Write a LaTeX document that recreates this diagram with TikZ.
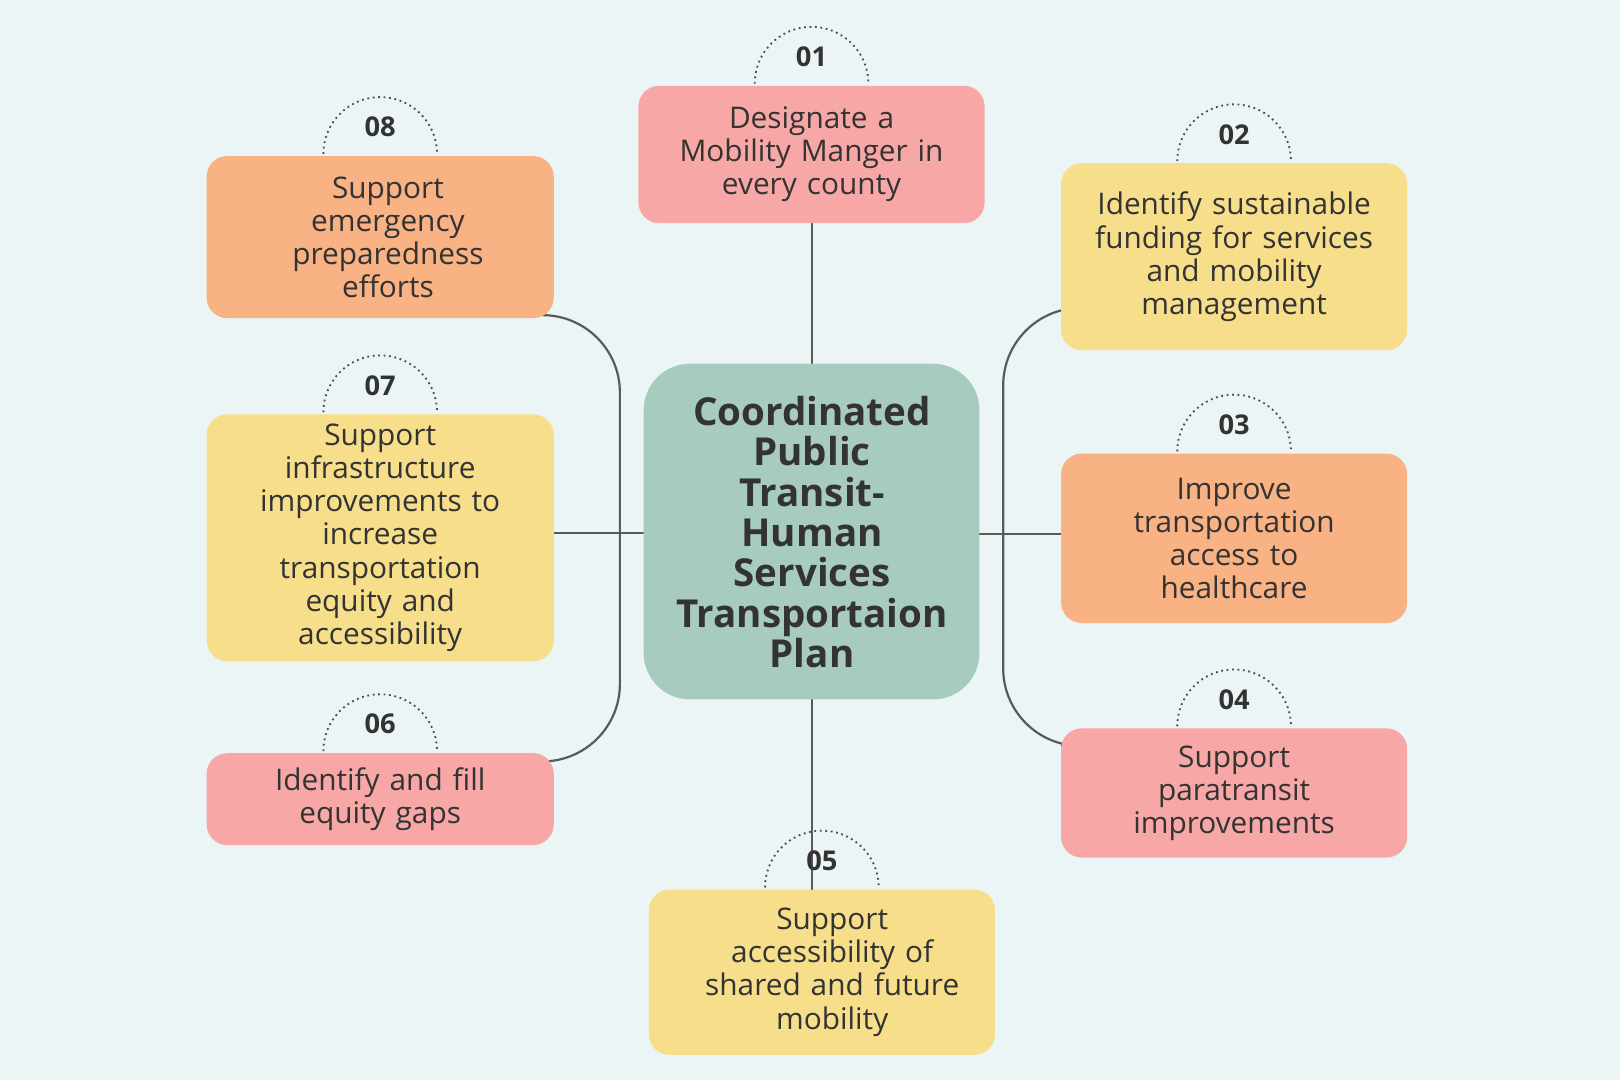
\documentclass[tikz,border=0pt]{standalone}
\usepackage{fontspec}
\setmainfont{Open Sans}
\begin{document}
\begin{tikzpicture}[x=0.01cm,y=-0.01cm,
  box/.style={rounded corners=0.2cm,inner sep=0pt,align=center,text=black!80,font=\fontsize{8.2}{9.1}\selectfont},
  num/.style={font=\bfseries\fontsize{7.5}{9}\selectfont,text=black!80},
  arc/.style={densely dotted,black!70,line width=0.5pt},
  conn/.style={black!65,line width=0.6pt}]
\definecolor{bg}{HTML}{EBF5F5}
\definecolor{pk}{HTML}{F7A7A6}
\definecolor{og}{HTML}{F8B283}
\definecolor{yl}{HTML}{F7DE8B}
\definecolor{gr}{HTML}{A7CBBC}
\fill[bg] (0,0) rectangle (1568,1045);
\useasboundingbox (0,0) rectangle (1568,1045);
\newcommand{\bx}[8]{% name, x1,y1,x2,y2,color,num,text
  \draw[arc] ({(#2+#4)/2-55},#3-2) arc[start angle=180,end angle=0,radius=0.55cm];
  \node[num] (#1n) at ({(#2+#4)/2},#3-28) {#7};
  \fill[#6,rounded corners=0.2cm] (#2,#3) rectangle (#4,#5);
  \node[box,text width=3.1cm] (#1) at ({(#2+#4)/2},{(#3+#5)/2}) {#8};}
% connectors
\draw[conn] (786,216) -- (786,352);
\draw[conn] (786,677) -- (786,861);
\draw[conn,rounded corners=0.75cm] (526,305) -- (600,305) -- (600,737) -- (530,737);
\draw[conn] (536,516) -- (623,516);
\draw[conn,rounded corners=0.75cm] (1027,298) -- (971,298) -- (971,722) -- (1027,722);
\draw[conn] (948,517) -- (1027,517);
\bx{b1}{618}{83}{953}{216}{pk}{01}{Designate a\\Mobility Manger in\\every county}
\bx{b8}{200}{151}{536}{308}{og}{08}{\hspace*{0.15cm}Support\\\hspace*{0.15cm}emergency\\\hspace*{0.15cm}preparedness\\\hspace*{0.15cm}efforts}
\bx{b2}{1027}{158}{1362}{339}{yl}{02}{Identify sustainable\\funding for services\\and mobility\\management}
\bx{b7}{200}{401}{536}{640}{yl}{07}{Support\\infrastructure\\improvements to\\increase\\transportation\\equity and\\accessibility}
\bx{b3}{1027}{439}{1362}{603}{og}{03}{Improve\\transportation\\access to\\healthcare}
\bx{b6}{200}{729}{536}{818}{pk}{06}{Identify and fill\\equity gaps}
\bx{b4}{1027}{705}{1362}{830}{pk}{04}{Support\\paratransit\\improvements}
\bx{b5}{628}{861}{963}{1021}{yl}{05}{\hspace*{0.2cm}Support\\\hspace*{0.2cm}accessibility of\\\hspace*{0.2cm}shared and future\\\hspace*{0.2cm}mobility}
\fill[gr,rounded corners=0.45cm] (623,352) rectangle (948,677);
\node[align=center,font=\bfseries\fontsize{10.6}{11.1}\selectfont,text=black!80] (c) at (786,515) {Coordinated\\Public\\Transit-\\Human\\Services\\Transportaion\\Plan};
\end{tikzpicture}
\end{document}
